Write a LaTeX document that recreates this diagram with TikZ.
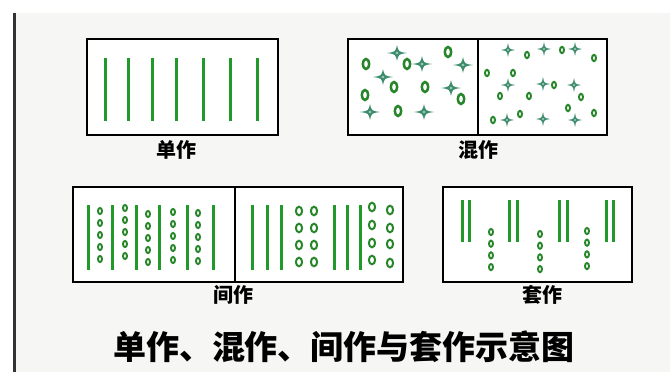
\documentclass[tikz,border=0pt]{standalone}
\usepackage{fontspec}
\newfontfamily\cjk{Noto Sans CJK SC}
\definecolor{bg}{HTML}{F6F6F4}
\definecolor{bar}{HTML}{333333}
\definecolor{grn}{HTML}{22992B}
\definecolor{ring}{HTML}{27862A}
\definecolor{spark}{HTML}{3D8C6C}
\tikzset{
  box/.style={draw=black, line width=2pt, fill=white},
  divider/.style={draw=black, line width=2pt},
  plant/.style={draw=grn, line width=3pt},
  bigo/.style={draw=ring, line width=2.5pt, x radius=3.2pt, y radius=5pt},
  smallo/.style={draw=ring, line width=1.9pt, x radius=2pt, y radius=3.2pt},
  medo/.style={draw=ring, line width=2pt, x radius=3.1pt, y radius=4.3pt},
  tinyo/.style={draw=ring, line width=1.9pt, x radius=2pt, y radius=3.1pt},
  lbl/.style={font=\cjk\bfseries\fontsize{20pt}{20pt}\selectfont, inner sep=0pt},
  ttl/.style={font=\cjk\bfseries\fontsize{33pt}{33pt}\selectfont, inner sep=0pt},
  pics/spk/.style={code={
    \fill[spark] (1,0) .. controls (0.15,0.15) .. (0,1)
                      .. controls (-0.15,0.15) .. (-1,0)
                      .. controls (-0.15,-0.15) .. (0,-1)
                      .. controls (0.15,-0.15) .. cycle;
    \fill[white!55!spark] (0,0) circle[radius=0.16];
  }}
}
\begin{document}
\begin{tikzpicture}[x=1pt, y=-1pt]
\useasboundingbox (0,0) rectangle (670,372);
\fill[white] (0,0) rectangle (670,372);
\fill[bg] (16,13) rectangle (670,372);
\fill[bar] (13,13) rectangle (16,372);

% ---------- 单作 ----------
\draw[box] (87,39) rectangle (278,135);
\foreach \x in {105,128,152,176,203,230,257}
  \draw[plant] (\x,58) -- (\x,121);
\node[lbl] (l1) at (176,150) {单作};

% ---------- 混作 ----------
\draw[box] (348,39) rectangle (607,135);
\draw[divider] (478,39) -- (478,135);
\foreach \x/\y in {366/64,407/64,448/52,394/87,425/87,365/95,461/99,398/111}
  \draw[bigo] (\x,\y) circle;
\foreach \x/\y in {397/53,422/64,463/65,383/77,451/88,370/112,424/112}
  \pic[xscale=10, yscale=8] at (\x,\y) {spk};
\foreach \x/\y in {527/55,562/50,594/58,487/73,513/73,554/85,500/96,529/96,581/97,568/108,594/113,493/120,520/114}
  \draw[smallo] (\x,\y) circle;
\foreach \x/\y in {508/50,544/49,575/49,508/85,543/84,574/85,507/120,543/119,575/120}
  \pic[scale=7] at (\x,\y) {spk};
\node[lbl] (l2) at (478,150) {混作};

% ---------- 间作 ----------
\draw[box] (73,187) rectangle (403,282);
\draw[divider] (235,187) -- (235,282);
\foreach \x in {88,112,136,159,187,213}
  \draw[plant] (\x,205) -- (\x,270);
\foreach \x/\s in {100/211,125/208,148/214,173/212,198/213}
  \foreach \k in {0,...,4}
    \draw[tinyo] (\x,\s+12*\k) circle;
\foreach \x in {252,267,281,334,347,360}
  \draw[plant] (\x,205) -- (\x,270);
\foreach \x in {299,314}
  \foreach \y in {211,228,245,262}
    \draw[medo] (\x,\y) circle;
\foreach \y in {207,225,243,260}
  \draw[medo] (372,\y) circle;
\foreach \y in {210,228,244,263}
  \draw[medo] (390,\y) circle;
\node[lbl] (l3) at (233,295) {间作};

% ---------- 套作 ----------
\draw[box] (443,187) rectangle (632,282);
\foreach \x in {462,469,509,517,559,567,606,613}
  \draw[plant] (\x,200) -- (\x,242);
\foreach \x/\s in {491/232,540/234,587/231}
  \foreach \k in {0,...,3}
    \draw[tinyo] (\x,\s+11.7*\k) circle;
\node[lbl] (l4) at (542,295) {套作};

% ---------- title ----------
\node[ttl] (title) at (344,347) {单作、混作、间作与套作示意图};
\end{tikzpicture}
\end{document}
